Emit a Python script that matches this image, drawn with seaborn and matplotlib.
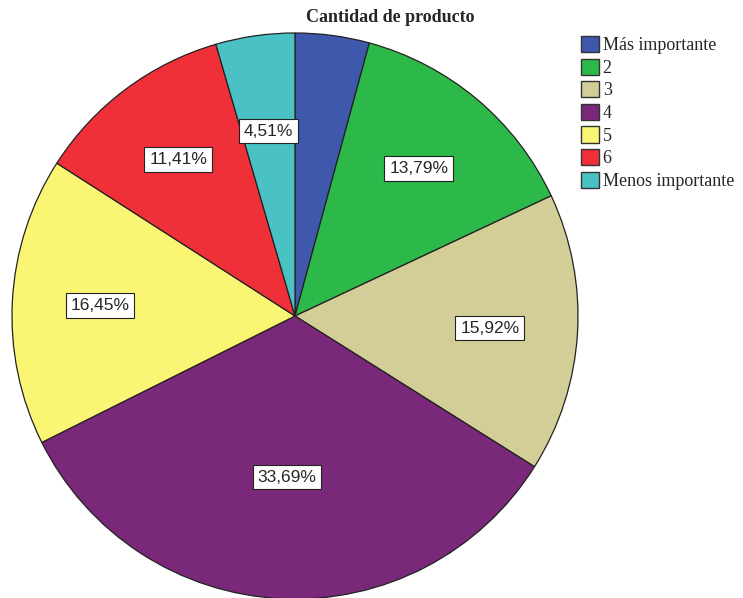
import numpy as np
import matplotlib
matplotlib.use("Agg")
import matplotlib.pyplot as plt
import seaborn as sns
from matplotlib.patches import Patch

categories = ["Más importante", "2", "3", "4", "5", "6", "Menos importante"]
percentages = [4.23, 13.79, 15.92, 33.69, 16.45, 11.41, 4.51]
show_label = [False, True, True, True, True, True, True]
colors = ["#3E58AC", "#2DB84A", "#D3CE97", "#79287A", "#FBF574", "#EF3038", "#4AC2C4"]
label_radius = [0.68, 0.68, 0.69, 0.57, 0.69, 0.69, 0.66]
title = "Cantidad de producto"

sns.set_theme(style="white")
plt.rcParams["font.family"] = ["Liberation Serif", "DejaVu Serif"]

W, H = 743, 598
fig = plt.figure(figsize=(W / 100, H / 100), dpi=100)
cx, cy, r = 295, 316, 283
ax = fig.add_axes([(cx - r) / W, (H - cy - r) / H, 2 * r / W, 2 * r / H])

wedges, _ = ax.pie(percentages, colors=colors, startangle=90, counterclock=False,
                   radius=1.0, wedgeprops=dict(edgecolor="#222222", linewidth=0.9))
ax.set_xlim(-1, 1)
ax.set_ylim(-1, 1)
ax.set_aspect("equal")
ax.axis("off")

for w, val, show, rr in zip(wedges, percentages, show_label, label_radius):
    if not show:
        continue
    ang = np.deg2rad((w.theta1 + w.theta2) / 2)
    ax.text(rr * np.cos(ang), rr * np.sin(ang), f"{val:.2f}%".replace(".", ","),
            ha="center", va="center", fontsize=12.5, family="Liberation Sans",
            bbox=dict(boxstyle="square,pad=0.28", facecolor="white",
                      edgecolor="#222222", linewidth=0.8))

fig.text(390 / W, 1 - 17 / H, title, ha="center", va="center",
         fontsize=13, fontweight="bold")

handles = [Patch(facecolor=c, edgecolor="#333333", linewidth=1.0) for c in colors]
fig.legend(handles, categories, loc="upper left", bbox_to_anchor=(581 / W, 1 - 36 / H),
           frameon=False, fontsize=13, handlelength=1.0, handleheight=1.0,
           handletextpad=0.2, labelspacing=0.24, borderaxespad=0, borderpad=0)

fig.savefig("out.png", dpi=100)
